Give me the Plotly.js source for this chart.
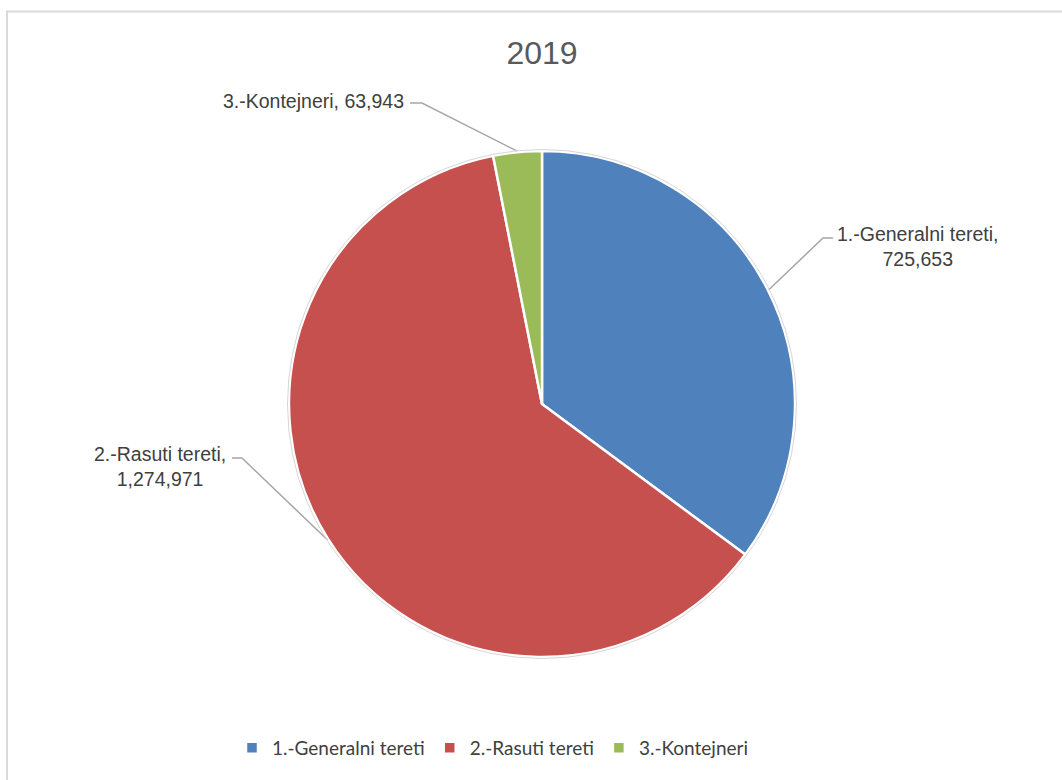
<!DOCTYPE html>
<html>
<head>
<meta charset="utf-8">
<script src="https://cdn.plot.ly/plotly-3.0.1.min.js"></script>
<style>html,body{margin:0;padding:0;background:#fff;}#chart{width:1062px;height:780px;}</style>
</head>
<body>
<div id="chart"></div>
<script>
// ---- data ----
const chartTitle = "2019";
const categories = ["1.-Generalni tereti", "2.-Rasuti tereti", "3.-Kontejneri"];
const values = [725653, 1274971, 63943];
const colors = ["#4F81BD", "#C6504E", "#9BBB59"];

// ---- geometry (pixels) ----
const W = 1062, H = 780;
const CX = 542, CY = 404, R = 253;
const px = x => x / W;
const py = y => 1 - y / H;

const fmt = v => v.toLocaleString('en-US');
const labelText = [
  categories[0] + ",<br>" + fmt(values[0]),
  categories[1] + ",<br>" + fmt(values[1]),
  categories[2] + ", " + fmt(values[2])
];
// label anchor positions and elbow points (pixels)
const labelPos = [
  {x: 918, y: 246, ex0: 833, ex1: 823, ey: 238},
  {x: 160, y: 466, ex0: 232, ex1: 242, ey: 458},
  {x: 313, y: 101, ex0: 410, ex1: 422, ey: 103}
];

const labelFont = {family: '"Liberation Sans", Arial, sans-serif', size: 19.5, color: '#404040'};

const total = values.reduce((a, b) => a + b, 0);
let cum = 0;
const shapes = [];
const annotations = [];
values.forEach((v, i) => {
  const mid = (cum + v / 2) / total;
  cum += v;
  const ang = mid * 2 * Math.PI; // clockwise from top
  const ex = CX + (R + 1) * Math.sin(ang);
  const ey = CY - (R + 1) * Math.cos(ang);
  const L = labelPos[i];
  shapes.push({
    type: 'path', xref: 'paper', yref: 'paper',
    path: `M${px(L.ex0)},${py(L.ey)} L${px(L.ex1)},${py(L.ey)} L${px(ex)},${py(ey)}`,
    line: {color: '#A6A6A6', width: 1.5}
  });
  annotations.push({
    xref: 'paper', yref: 'paper', x: px(L.x), y: py(L.y),
    xanchor: 'center', yanchor: 'middle', showarrow: false,
    text: labelText[i], align: 'center',
    font: labelFont
  });
});

// chart-area border
shapes.push({
  type: 'rect', xref: 'paper', yref: 'paper',
  x0: px(7), x1: 1.02, y0: -0.02, y1: py(11.5),
  line: {color: '#D9D9D9', width: 2}, fillcolor: 'rgba(0,0,0,0)'
});
// thin outer ring around pie
shapes.push({
  type: 'circle', xref: 'paper', yref: 'paper',
  x0: px(CX - R - 1.5), x1: px(CX + R + 1.5), y0: py(CY + R + 1.5), y1: py(CY - R - 1.5),
  line: {color: '#D6D6D6', width: 1}
});

const trace = {
  type: 'pie',
  labels: categories,
  values: values,
  sort: false,
  direction: 'clockwise',
  rotation: 0,
  textinfo: 'none',
  hoverinfo: 'label+value+percent',
  marker: {colors: colors, line: {color: '#FFFFFF', width: 2.5}},
  domain: {x: [px(CX - R), px(CX + R)], y: [py(CY + R), py(CY - R)]}
};

const layout = {
  width: W, height: H,
  margin: {l: 0, r: 0, t: 0, b: 0},
  paper_bgcolor: '#FFFFFF',
  title: {
    text: chartTitle, x: px(542), xanchor: 'center', y: py(53), yanchor: 'middle',
    xref: 'paper', yref: 'paper',
    font: {family: '"Liberation Sans", Arial, sans-serif', size: 32, color: '#595959'}
  },
  showlegend: true,
  legend: {
    orientation: 'h', x: px(232), xanchor: 'left', y: py(748), yanchor: 'middle',
    font: {family: 'Lato, "Open Sans", sans-serif', size: 19, color: '#404040'},
    itemclick: false, itemdoubleclick: false
  },
  shapes: shapes,
  annotations: annotations
};

Plotly.newPlot('chart', [trace], layout, {displayModeBar: false, staticPlot: true});
</script>
</body>
</html>
